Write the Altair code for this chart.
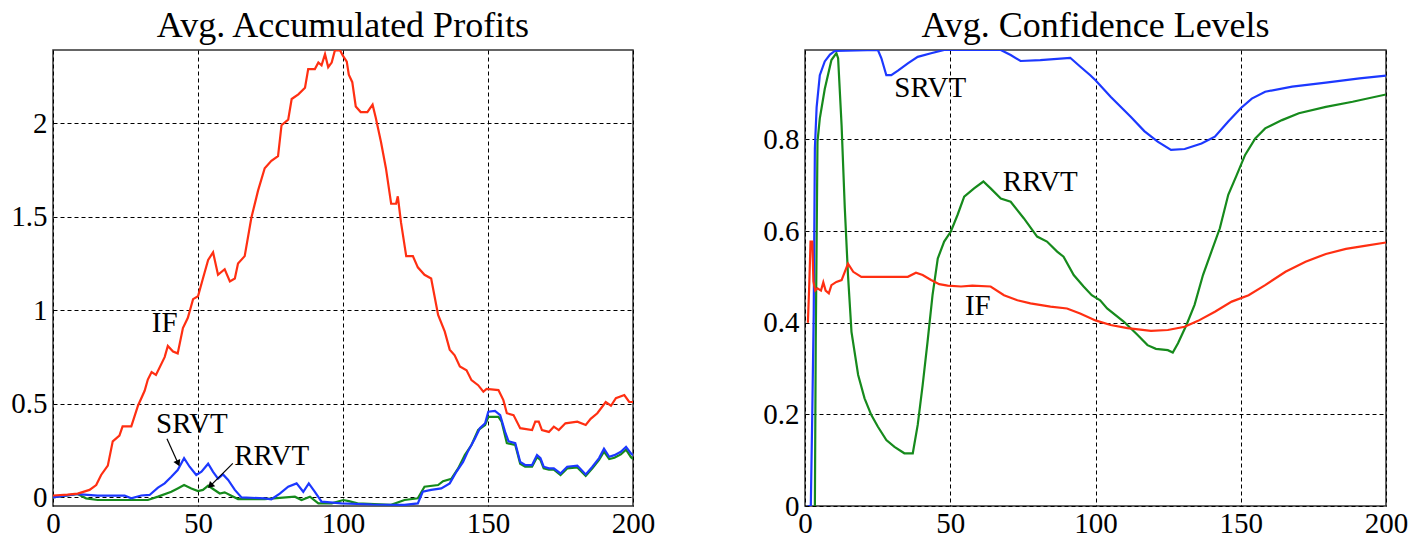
import altair as alt
import pandas as pd

FONT = "Liberation Serif"

# ---------------- Avg. accumulated profits ----------------
PROFIT_IF_T = [0, 5, 8.5, 12.6, 14.9, 16.6, 18.9, 20.6, 22.9, 24, 27, 29.3, 31.6, 32.7, 34, 35.5,
               38.5, 39.6, 41.4, 43, 44.8, 46.5, 48.3, 50, 51.7, 53.5, 55.2, 56.9, 59.2, 61, 62.7,
               63.8, 66.1, 68.4, 70.7, 73, 75.3, 77.6, 78.8, 81.1, 82.3, 84.6, 86.9, 88, 90.3, 91.5,
               92.6, 93.8, 94.9, 96.1, 97.2, 99, 100, 101.3, 102, 103.2, 104.4, 106.1, 108.4, 110.2,
               111.3, 113.1, 114.8, 116.6, 118.3, 118.9, 120, 121.8, 124.1, 125.8, 128.1, 130.4,
               132.8, 135.1, 136.8, 138.5, 140.3, 142.6, 144.3, 146.6, 148.4, 149.5, 153.6, 155.3,
               156.5, 158.8, 161.1, 165.2, 166.3, 167.5, 168.6, 171, 172.7, 174.4, 176.7, 180.8,
               183.7, 185.4, 187.7, 190.6, 192.4, 194.1, 197, 198.7, 200]
PROFIT_IF_V = [0.01, 0.015, 0.02, 0.04, 0.066, 0.12, 0.17, 0.30, 0.33, 0.38, 0.38, 0.49, 0.57, 0.63,
               0.67, 0.655, 0.75, 0.81, 0.78, 0.77, 0.905, 0.96, 1.06, 1.075, 1.17, 1.27, 1.31, 1.19,
               1.22, 1.155, 1.17, 1.25, 1.29, 1.495, 1.64, 1.76, 1.80, 1.825, 1.99, 2.02, 2.13, 2.155,
               2.19, 2.29, 2.29, 2.325, 2.31, 2.37, 2.30, 2.325, 2.39, 2.39, 2.36, 2.33, 2.26, 2.22,
               2.09, 2.06, 2.06, 2.10, 2.03, 1.90, 1.76, 1.57, 1.57, 1.61, 1.47, 1.29, 1.29, 1.23,
               1.19, 1.17, 0.975, 0.886, 0.79, 0.76, 0.70, 0.68, 0.627, 0.60, 0.565, 0.58, 0.574,
               0.52, 0.45, 0.44, 0.37, 0.36, 0.405, 0.405, 0.36, 0.35, 0.378, 0.36, 0.396, 0.405,
               0.387, 0.42, 0.45, 0.51, 0.49, 0.53, 0.547, 0.51, 0.51]

PROFIT_SRVT_T = [0, 8.5, 15.4, 24.7, 27, 30.4, 33.3, 36.2, 38.5, 40.8, 43, 45.2, 47.1, 49.4, 51.2,
                 53.5, 55.2, 56.9, 58.6, 60.4, 62.7, 65, 73, 75.3, 78.2, 81.1, 84, 86.3, 88.2, 90.3,
                 92.6, 99.5, 110, 121.2, 125.8, 127.5, 130.4, 133.9, 136.8, 139.1, 141.4, 143.2,
                 145.5, 147.2, 149, 150.1, 152.4, 154.2, 155.9, 157.1, 159.4, 161.1, 162.8, 165.2,
                 166.9, 168.1, 169.2, 171, 172.7, 175, 177.3, 180.8, 183.7, 186, 188.3, 190, 191.8,
                 193.6, 195.8, 197.6, 199.3, 200]
PROFIT_SRVT_V = [0.0, 0.018, 0.01, 0.01, -0.005, 0.01, 0.013, 0.052, 0.075, 0.11, 0.146, 0.21, 0.164,
                 0.12, 0.137, 0.18, 0.137, 0.10, 0.123, 0.093, 0.04, 0.0, -0.005, -0.01, 0.02, 0.057,
                 0.075, 0.03, 0.075, 0.03, -0.023, -0.032, -0.038, -0.04, -0.032, 0.03, 0.04, 0.048,
                 0.075, 0.137, 0.19, 0.25, 0.315, 0.37, 0.396, 0.458, 0.462, 0.44, 0.35, 0.30, 0.29,
                 0.19, 0.173, 0.173, 0.226, 0.21, 0.164, 0.155, 0.155, 0.128, 0.164, 0.17, 0.123,
                 0.164, 0.21, 0.26, 0.217, 0.226, 0.244, 0.27, 0.235, 0.226]

PROFIT_RRVT_T = [0, 8.5, 11.4, 15.4, 32.7, 36.2, 40.8, 43, 45.2, 47.7, 50, 51.7, 53.5, 55.2, 57.5,
                 59.2, 61.5, 63.8, 73, 83.4, 85.7, 88.6, 91.5, 96.1, 100.1, 102, 105, 116.6, 121.2,
                 125.8, 128.1, 132.8, 134.5, 137.4, 139.7, 142, 144.3, 146.6, 149, 150.1, 153.6,
                 154.7, 156.5, 159.4, 161.1, 162.8, 165.2, 166.9, 168.1, 169.2, 171, 172.7, 175,
                 177.3, 180.8, 183.7, 186, 188.3, 190, 191.8, 193.6, 195.8, 197.6, 199.3, 200]
PROFIT_RRVT_V = [0, 0.018, -0.005, -0.014, -0.014, 0.004, 0.03, 0.048, 0.066, 0.048, 0.034, 0.04,
                 0.063, 0.045, 0.021, 0.027, 0.009, -0.009, -0.009, 0.004, -0.014, 0.004, -0.032,
                 -0.032, -0.014, -0.02, -0.032, -0.04, -0.014, -0.005, 0.057, 0.066, 0.087, 0.10,
                 0.155, 0.226, 0.28, 0.36, 0.387, 0.43, 0.43, 0.405, 0.29, 0.28, 0.18, 0.165, 0.165,
                 0.215, 0.2, 0.155, 0.148, 0.148, 0.12, 0.155, 0.16, 0.115, 0.155, 0.2, 0.245, 0.205,
                 0.212, 0.23, 0.255, 0.215, 0.205]

# ---------------- Avg. confidence levels ----------------
CONF_IF_T = [1, 1.5, 1.9, 2.5, 2.9, 3.5, 4.3, 5.5, 6.3, 7.1, 8.2, 9.1, 10.8, 12.6, 13.7, 14.8, 16.6,
             19.4, 24, 35.4, 38.2, 40.5, 43.4, 46.2, 49.1, 53.7, 57.6, 63.9, 68.5, 73.1, 77.6, 84.5,
             90.2, 94.7, 100, 105.2, 111, 119.1, 124.9, 130.7, 135.3, 141.1, 146.9, 152.7, 158.4,
             165.4, 172.3, 179.3, 186.2, 193.2, 200]
CONF_IF_V = [0.40, 0.49, 0.577, 0.577, 0.49, 0.47, 0.475, 0.47, 0.488, 0.47, 0.464, 0.482, 0.489,
             0.493, 0.511, 0.529, 0.511, 0.50, 0.50, 0.50, 0.509, 0.504, 0.493, 0.484, 0.481, 0.479,
             0.481, 0.479, 0.46, 0.449, 0.442, 0.435, 0.431, 0.42, 0.405, 0.395, 0.388, 0.382,
             0.384, 0.391, 0.404, 0.424, 0.446, 0.46, 0.482, 0.511, 0.533, 0.55, 0.561, 0.568, 0.575]

CONF_SRVT_T = [1, 2, 2.5, 3.0, 3.4, 4, 5.1, 6.8, 8.6, 10.3, 25.1, 26.3, 28, 29.7, 32, 35.4, 38.8,
               43.4, 47.9, 67.4, 70.8, 74.2, 81, 91.3, 94.7, 98.2, 100, 105.2, 112.2, 116.8, 121.4,
               126, 130.7, 136.5, 141.1, 145.7, 150, 153.8, 158.4, 167.7, 179.3, 190.9, 200]
CONF_SRVT_V = [0.0, 0.0, 0.2, 0.42, 0.78, 0.87, 0.94, 0.97, 0.985, 0.993, 0.995, 0.977, 0.94, 0.94,
               0.95, 0.966, 0.98, 0.988, 0.995, 0.995, 0.984, 0.971, 0.973, 0.978, 0.959, 0.94,
               0.929, 0.893, 0.849, 0.818, 0.795, 0.777, 0.779, 0.791, 0.806, 0.839, 0.868, 0.889,
               0.904, 0.915, 0.924, 0.933, 0.939]

CONF_RRVT_T = [3.4, 3.7, 4.3, 5.1, 6.8, 9.1, 10.8, 11.4, 12.6, 13.7, 14.8, 16, 18.3, 20.5, 22.8,
               25.1, 28, 30.8, 34.2, 37.1, 38.8, 40.5, 42.2, 43.9, 45.7, 47.9, 50.2, 52.5, 54.8,
               58.2, 61.4, 63.9, 67.4, 70.8, 75.3, 79.9, 83.3, 86.8, 89, 92.5, 95.9, 98.7, 101.6,
               104, 109.8, 114.5, 117.9, 120.8, 124.9, 126.6, 128.4, 131.3, 134.1, 137, 139.9,
               142.8, 145.7, 148.6, 151.5, 155, 158.4, 164.2, 170, 179.3, 188.5, 200]
CONF_RRVT_V = [0.0, 0.36, 0.795, 0.846, 0.91, 0.973, 0.988, 0.977, 0.83, 0.65, 0.504, 0.38, 0.286,
               0.235, 0.199, 0.173, 0.144, 0.129, 0.115, 0.115, 0.177, 0.264, 0.359, 0.46, 0.54,
               0.577, 0.599, 0.635, 0.675, 0.693, 0.708, 0.693, 0.671, 0.664, 0.628, 0.588, 0.577,
               0.555, 0.544, 0.504, 0.479, 0.46, 0.449, 0.431, 0.402, 0.373, 0.351, 0.343, 0.34,
               0.335, 0.355, 0.395, 0.439, 0.504, 0.555, 0.606, 0.679, 0.722, 0.766, 0.802, 0.824,
               0.842, 0.857, 0.871, 0.882, 0.898]

# Curve labels: (text, t, value)
PROFIT_LABELS = [("IF", 38.5, 0.935), ("SRVT", 47.9, 0.39), ("RRVT", 75.4, 0.223)]
CONF_LABELS = [("SRVT", 43.1, 0.912), ("RRVT", 81.0, 0.706), ("IF", 59.5, 0.437)]

# Pointer arrows in the profits panel: (t start, value start, t end, value end, head angle)
PROFIT_ARROWS = [(39.3, 0.314, 43.0, 0.187, 156), (62.0, 0.182, 54.5, 0.066, 225)]

COLOR_IF = "#ff2f12"
COLOR_SRVT = "#1c38ff"
COLOR_RRVT = "#168a1c"

X_TICKS = [0, 50, 100, 150, 200]
PROFIT_TICKS = [0, 0.5, 1, 1.5, 2]
CONF_TICKS = [0, 0.2, 0.4, 0.6, 0.8]
PROFIT_DOMAIN = [-0.046, 2.392]
CONF_DOMAIN = [0, 0.995]

PLAIN_LABEL = "datum.value + ''"


def series_frame(ts, vs):
    return pd.DataFrame({"t": ts, "v": vs})


def axis(values, padding):
    return alt.Axis(values=values, title=None, ticks=False, domain=False, labelFlush=False,
                    labelPadding=padding, labelExpr=PLAIN_LABEL, grid=True,
                    labelFont=FONT, labelFontSize=29, labelColor="black")


def panel(title, curves, labels, y_domain, y_ticks, width, height, arrows=None):
    x_enc = alt.X("t:Q", scale=alt.Scale(domain=[0, 200], nice=False, zero=False),
                  axis=axis(X_TICKS, 3))
    y_enc = alt.Y("v:Q", scale=alt.Scale(domain=y_domain, nice=False, zero=False),
                  axis=axis(y_ticks, 6))
    layers = []
    for ts, vs, color in curves:
        layers.append(
            alt.Chart(series_frame(ts, vs))
            .mark_line(color=color, strokeWidth=2.2, clip=True)
            .encode(x=x_enc, y=y_enc)
        )
    lab = pd.DataFrame(labels, columns=["text", "t", "v"])
    layers.append(
        alt.Chart(lab)
        .mark_text(font=FONT, fontSize=29, color="black", align="center", baseline="middle")
        .encode(x="t:Q", y="v:Q", text="text:N")
    )
    if arrows:
        arr = pd.DataFrame(arrows, columns=["t", "v", "t2", "v2", "ang"])
        layers.append(
            alt.Chart(arr).mark_rule(color="black", strokeWidth=1.2)
            .encode(x="t:Q", y="v:Q", x2="t2:Q", y2="v2:Q")
        )
        layers.append(
            alt.Chart(arr).mark_point(shape="triangle", filled=True, color="black",
                                      size=55, opacity=1)
            .encode(x="t2:Q", y="v2:Q", angle=alt.Angle("ang:Q", scale=None))
        )
    return alt.layer(*layers).properties(
        width=width, height=height,
        title=alt.TitleParams(title, font=FONT, fontSize=36, fontWeight="normal",
                              color="black", anchor="middle", baseline="top",
                              offset=5),
    )


profits = panel(
    "Avg. Accumulated Profits",
    [(PROFIT_RRVT_T, PROFIT_RRVT_V, COLOR_RRVT),
     (PROFIT_SRVT_T, PROFIT_SRVT_V, COLOR_SRVT),
     (PROFIT_IF_T, PROFIT_IF_V, COLOR_IF)],
    PROFIT_LABELS, PROFIT_DOMAIN, PROFIT_TICKS, 580, 456, arrows=PROFIT_ARROWS,
)

confidence = panel(
    "Avg. Confidence Levels",
    [(CONF_RRVT_T, CONF_RRVT_V, COLOR_RRVT),
     (CONF_SRVT_T, CONF_SRVT_V, COLOR_SRVT),
     (CONF_IF_T, CONF_IF_V, COLOR_IF)],
    CONF_LABELS, CONF_DOMAIN, CONF_TICKS, 581, 456,
)

chart = (
    alt.hconcat(profits, confidence, spacing=172, bounds="flush")
    .properties(padding={"left": 10, "top": 7, "right": 5, "bottom": 5}, background="white")
    .configure_axis(labelFont=FONT, labelFontSize=29, labelColor="black",
                    gridColor="black", gridDash=[4, 3], gridWidth=1, gridOpacity=1)
    .configure_view(stroke="#333333", strokeWidth=1.5)
)

chart.save("out.html", embed_options={"renderer": "svg", "actions": False})
